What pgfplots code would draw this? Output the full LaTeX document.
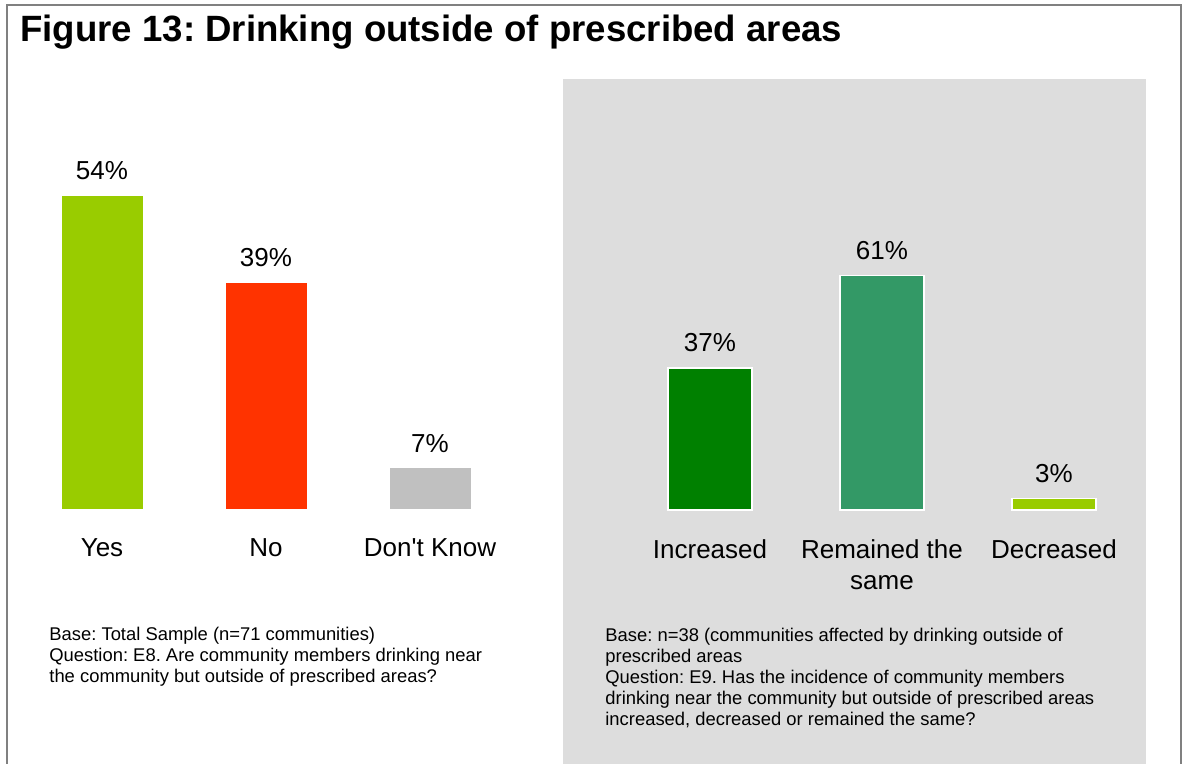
\documentclass[border=0pt]{standalone}
\usepackage{pgfplots}
\pgfplotsset{compat=1.18}
\usepackage{fontspec}
\setmainfont{Liberation Sans}
\frenchspacing
\definecolor{yesgreen}{HTML}{99CC00}
\definecolor{nored}{HTML}{FF3300}
\definecolor{dkgrey}{HTML}{C0C0C0}
\definecolor{incgreen}{HTML}{008000}
\definecolor{samegreen}{HTML}{339966}
\definecolor{panelgrey}{HTML}{DDDDDD}
\definecolor{framegrey}{HTML}{808080}
\newcommand{\lbl}{\fontsize{13}{15.5}\selectfont}
\newcommand{\note}{\fontsize{9.2}{10.5}\selectfont}
\begin{document}
\begin{tikzpicture}[x=0.5pt,y=0.5pt]
  % page frame, pixel units, y measured from the bottom
  \path[use as bounding box] (0,0) rectangle (1184,764);
  \fill[panelgrey] (563,0) rectangle (1146,685);
  \draw[framegrey,line width=1pt] (7,0) -- (7,759) -- (1181,759) -- (1181,0);
  \node[anchor=base west,inner sep=0,font=\fontsize{18.3}{22}\selectfont\bfseries] at (20,722)
    {Figure 13: Drinking outside of prescribed areas};

  \pgfplotsset{
    panel/.style={
      scale only axis,
      clip=false,
      xmin=-0.5, xmax=2.5, ymin=0,
      axis line style={draw=none},
      tick style={draw=none},
      ytick=\empty,
      xtick={0,1,2},
      xticklabel style={font=\lbl, anchor=north, inner sep=0pt, yshift=-10.5pt, align=center},
      ybar, bar shift=0pt,
      /pgf/number format/assume math mode=true,
      nodes near coords={\pgfmathprintnumber{\pgfplotspointmeta}\%},
      every node near coord/.style={font=\lbl, anchor=base, inner sep=0pt, yshift=8pt, black},
    },
  }

  % left: E8
  \begin{axis}[panel, at={(10pt,127.5pt)}, anchor=south west,
      width=246pt, height=174pt, ymax=60, bar width=40.5pt,
      xticklabels={Yes, No, Don\textquotesingle t Know}]
    \addplot[fill=yesgreen, draw=none] coordinates {(0,54)};
    \addplot[fill=nored, draw=none] coordinates {(1,39)};
    \addplot[fill=dkgrey, draw=none] coordinates {(2,7)};
  \end{axis}

  % right: E9
  \begin{axis}[panel, at={(312pt,127pt)}, anchor=south west,
      width=258pt, height=134.4pt, ymax=70, bar width=42pt,
      xticklabels={Increased, Remained the\\same, Decreased}]
    \addplot[fill=incgreen, draw=white, line width=0.6pt] coordinates {(0,37)};
    \addplot[fill=samegreen, draw=white, line width=0.6pt] coordinates {(1,61)};
    \addplot[fill=yesgreen, draw=white, line width=0.6pt] coordinates {(2,3)};
  \end{axis}

  % footnotes
  \begin{scope}[every node/.style={anchor=base west, inner sep=0pt, font=\note}]
    \node at (49,123) {Base: Total Sample (n=71 communities)};
    \node at (49,102) {Question: E8. Are community members drinking near};
    \node at (49,81) {the community but outside of prescribed areas?};
    \node at (605,122) {Base: n=38 (communities affected by drinking outside of};
    \node at (605,101) {prescribed areas};
    \node at (605,80) {Question: E9. Has the incidence of community members};
    \node at (605,59) {drinking near the community but outside of prescribed areas};
    \node at (605,38) {increased, decreased or remained the same?};
  \end{scope}
\end{tikzpicture}
\end{document}
